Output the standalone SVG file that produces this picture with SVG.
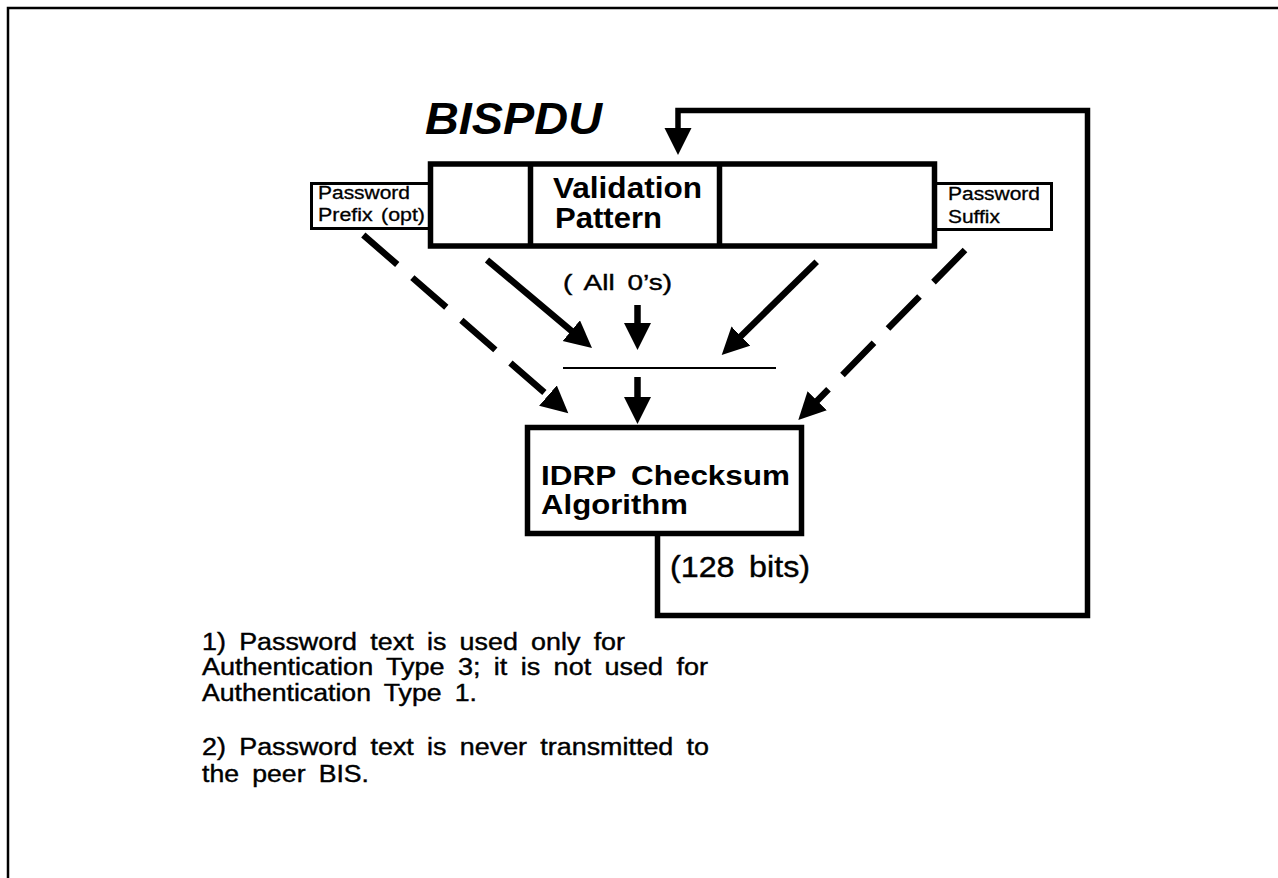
<svg xmlns="http://www.w3.org/2000/svg" width="1278" height="878" viewBox="0 0 1278 878">
<style>
text{font-family:"Liberation Sans",Arial,Helvetica,sans-serif;fill:#000}
.t-title{font-weight:bold;font-style:italic;font-size:44px}
.t-big{font-weight:bold;font-size:30px;word-spacing:4px}
.t-box{font-weight:bold;font-size:28px;word-spacing:6px}
.t-small{font-size:18px;word-spacing:2px;stroke:#000;stroke-width:0.3}
.t-note{font-size:23px;word-spacing:5px;stroke:#000;stroke-width:0.4}
.t-mid{font-size:22px;word-spacing:4px;stroke:#000;stroke-width:0.4}
.t-bits{font-size:29px;word-spacing:5px;stroke:#000;stroke-width:0.4}
.thick{fill:#fff;stroke:#000;stroke-width:5.5}
.thinbox{fill:#fff;stroke:#000;stroke-width:3}
.conn{fill:none;stroke:#000;stroke-width:6.5;stroke-linejoin:miter}
.loop{fill:none;stroke:#000;stroke-width:5.5;stroke-linejoin:miter}
.dash{stroke-dasharray:45 20}
.rule{fill:none;stroke:#000;stroke-width:2}
.frame{fill:none;stroke:#000;stroke-width:2.5}
</style>
<defs>
<marker id="ah" markerUnits="userSpaceOnUse" markerWidth="30" markerHeight="30" refX="12" refY="13.5" orient="auto">
<path d="M0,0 L27,13.5 L0,27 z" fill="#000"/>
</marker>
</defs>
<rect x="0" y="0" width="1278" height="878" fill="#fff"/>
<path class="frame" d="M8,878 V8 H1278"/>

<text id="title" class="t-title" x="425" y="134" textLength="177" lengthAdjust="spacingAndGlyphs">BISPDU</text>

<g id="prefix">
<rect class="thinbox" x="311.5" y="183.5" width="118" height="45"/>
<text class="t-small" x="318" y="199" textLength="92" lengthAdjust="spacingAndGlyphs">Password</text>
<text class="t-small" x="318" y="221" textLength="107" lengthAdjust="spacingAndGlyphs">Prefix (opt)</text>
</g>

<g id="suffix">
<rect class="thinbox" x="934" y="183.5" width="117.5" height="46"/>
<text class="t-small" x="948" y="200" textLength="92" lengthAdjust="spacingAndGlyphs">Password</text>
<text class="t-small" x="948" y="223" textLength="52" lengthAdjust="spacingAndGlyphs">Suffix</text>
</g>

<g id="bispdu">
<rect class="thick" x="430.5" y="164" width="504" height="82"/>
<line class="loop" x1="530.5" y1="164" x2="530.5" y2="246"/>
<line class="loop" x1="719.5" y1="164" x2="719.5" y2="246"/>
<text class="t-big" x="553" y="198" textLength="149" lengthAdjust="spacingAndGlyphs">Validation</text>
<text class="t-big" x="555" y="228" textLength="107" lengthAdjust="spacingAndGlyphs">Pattern</text>
</g>

<g id="zeros">
<text class="t-mid" x="563" y="290" textLength="109" lengthAdjust="spacingAndGlyphs">( All 0’s)</text>
</g>

<g id="combine">
<line class="rule" x1="563" y1="368" x2="776" y2="368"/>
</g>

<g id="idrp">
<rect class="thick" x="527.5" y="427.5" width="274" height="106"/>
<text class="t-box" x="541" y="485" textLength="249" lengthAdjust="spacingAndGlyphs">IDRP Checksum</text>
<text class="t-box" x="541" y="514" textLength="147" lengthAdjust="spacingAndGlyphs">Algorithm</text>
</g>

<g id="bits">
<text class="t-bits" x="670" y="577" textLength="140" lengthAdjust="spacingAndGlyphs">(128 bits)</text>
</g>

<g id="connectors">
<polyline class="loop" points="657.5,533 657.5,615.5 1087.5,615.5 1087.5,110.5 678,110.5 678,140" marker-end="url(#ah)"/>
<line class="conn" x1="487" y1="260" x2="580.5" y2="338.4" marker-end="url(#ah)"/>
<line class="conn" x1="637.5" y1="305" x2="637.5" y2="335" marker-end="url(#ah)"/>
<line class="conn" x1="816.7" y1="261.7" x2="732.4" y2="344.5" marker-end="url(#ah)"/>
<line class="conn" x1="637.5" y1="377" x2="637.5" y2="409" marker-end="url(#ah)"/>
<line class="conn dash" x1="363.3" y1="235" x2="557" y2="403.5" marker-end="url(#ah)"/>
<line class="conn dash" x1="965" y1="250" x2="808.8" y2="409.3" marker-end="url(#ah)"/>
</g>

<g id="notes">
<text class="t-note" x="202" y="650" textLength="423" lengthAdjust="spacingAndGlyphs">1) Password text is used only for</text>
<text class="t-note" x="202" y="675" textLength="506" lengthAdjust="spacingAndGlyphs">Authentication Type 3; it is not used for</text>
<text class="t-note" x="202" y="701" textLength="275" lengthAdjust="spacingAndGlyphs">Authentication Type 1.</text>
<text class="t-note" x="202" y="755" textLength="507" lengthAdjust="spacingAndGlyphs">2) Password text is never transmitted to</text>
<text class="t-note" x="202" y="782" textLength="167" lengthAdjust="spacingAndGlyphs">the peer BIS.</text>
</g>
</svg>
